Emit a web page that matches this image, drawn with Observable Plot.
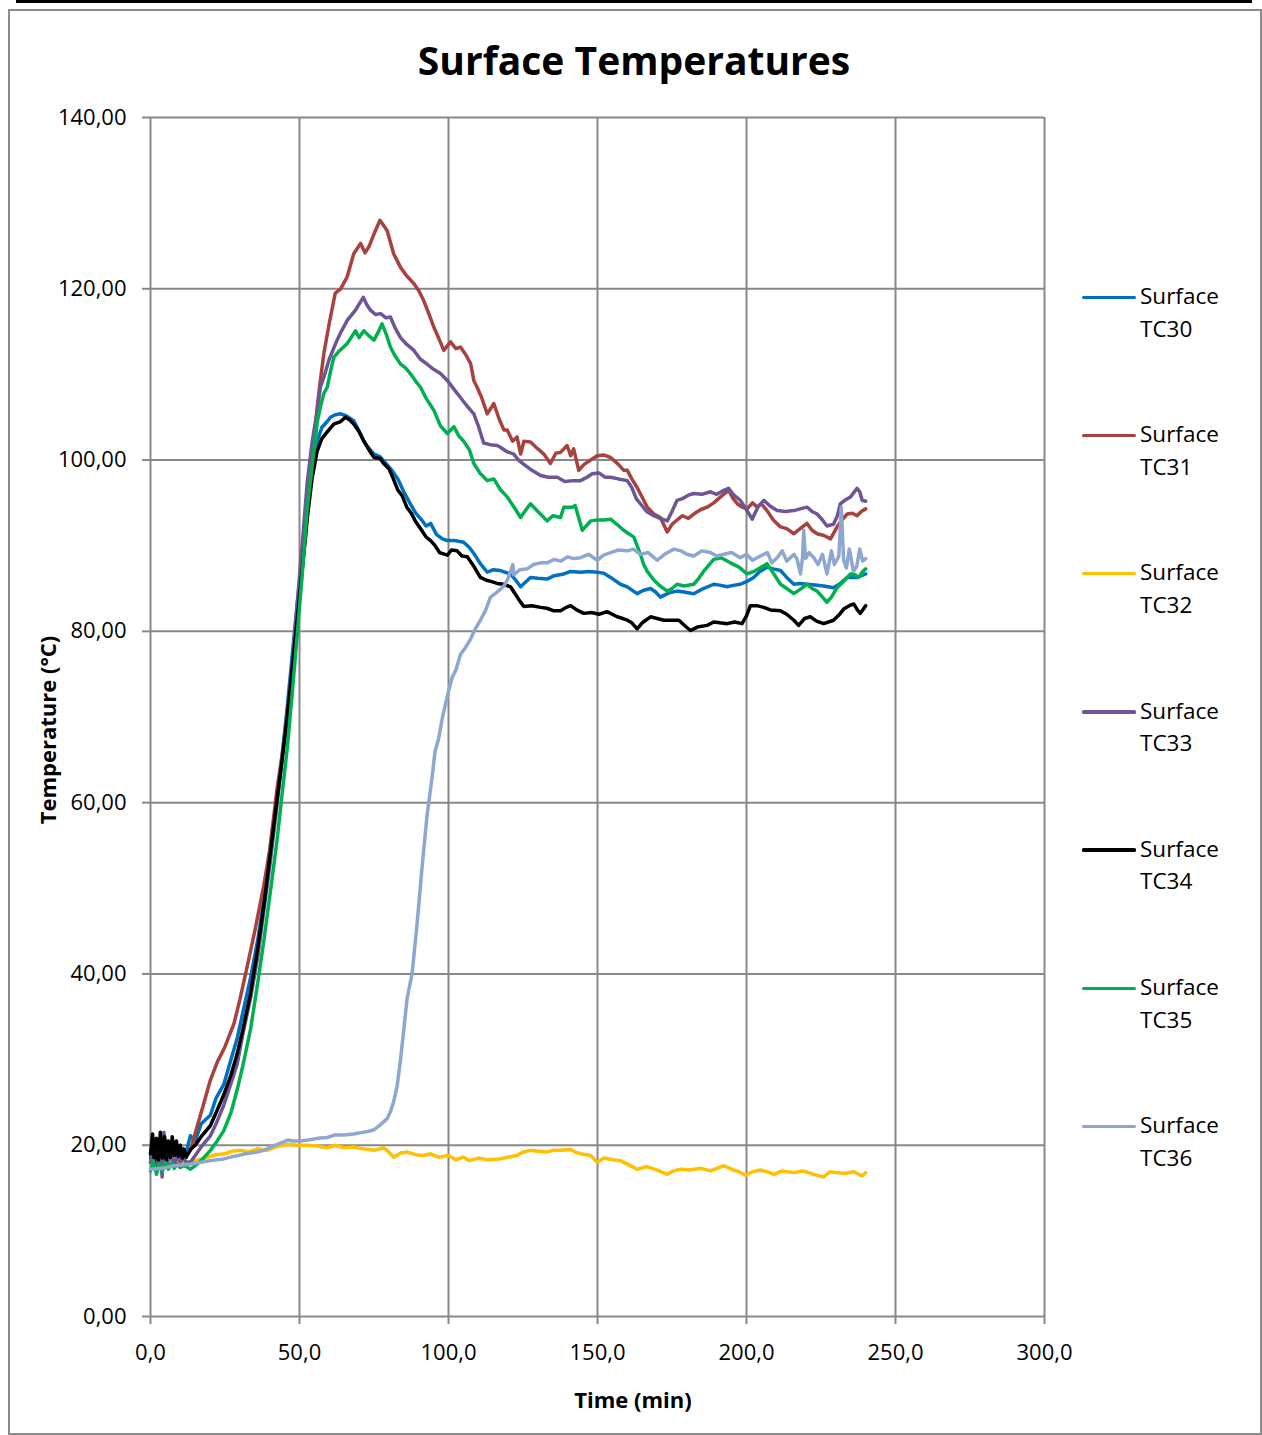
<!DOCTYPE html>
<html>
<head>
<meta charset="utf-8">
<script src="https://cdn.jsdelivr.net/npm/d3@7"></script>
<script src="https://cdn.jsdelivr.net/npm/@observablehq/plot@0.6"></script>
<style>
  html, body { margin: 0; padding: 0; background: #fff; }
  #wrap { position: relative; width: 1262px; height: 1435px; overflow: hidden; font-family: "Open Sans", sans-serif; color: #000; }
  #wrap svg { position: absolute; left: 0; top: 0; }
  .abs { position: absolute; white-space: nowrap; }
</style>
</head>
<body>
<div id="wrap"></div>
<script>
// ---------- data (time in min, temperature in °C) ----------
const seriesNames = ["Surface TC30", "Surface TC31", "Surface TC32", "Surface TC33", "Surface TC34", "Surface TC35", "Surface TC36"];
const seriesColors = ["#0070C0", "#A8423E", "#FFC000", "#6E5696", "#000000", "#00B050", "#8EA7D1"];
const xTicks = [0, 50, 100, 150, 200, 250, 300];
const yTicks = [0, 20, 40, 60, 80, 100, 120, 140];

const tc30 = [[0,18.5],[1,20.8],[2,18.2],[3,20.5],[4,19.0],[5,20.6],[6,18.6],[7,20.2],[8,18.8],[9,19.8],[10,18.4],[11,19.6],[12,19.2],[13.4,21.1],[15,20.5],[17,22.5],[20.1,23.5],[22,25.5],[24.6,27.1],[27,30.0],[29.1,32.5],[31,35.5],[33.6,39.6],[36,44],[38,48.6],[40,54],[42.5,60.5],[44,65],[45.9,71.2],[47.5,77],[49.2,83.1],[51,89],[52.6,94.4],[54.2,99],[55.9,102.2],[57.5,103.8],[59.3,104.5],[60.4,105],[62,105.3],[63.8,105.4],[65.5,105.2],[68.2,104.6],[70,103.4],[71.6,102.2],[73,101.5],[75,100.7],[77,100.4],[79,99.6],[81,98.8],[83,97.8],[85,96.3],[87,95.0],[89,93.8],[91,93.0],[92.5,92.3],[94,92.6],[96,91.3],[98,90.8],[99.6,90.6],[102,90.6],[105.1,90.4],[107,89.8],[108.5,89.1],[110.5,88],[113,86.9],[115,87.2],[117.4,87.1],[120.8,86.7],[122.5,86.0],[124.2,85.2],[127.5,86.3],[130,86.2],[133.1,86.1],[135.5,86.5],[138.7,86.7],[141,87.0],[144.3,86.9],[147,87.0],[149.9,86.9],[152,86.8],[154.4,86.3],[157.7,85.5],[160,85.2],[163.3,84.4],[165.5,84.8],[167.8,85.0],[169.5,84.6],[171.1,84.0],[174,84.5],[176.7,84.7],[179,84.6],[182.3,84.4],[185.5,85.0],[189,85.5],[191,85.4],[193.5,85.2],[196,85.4],[197.9,85.5],[200,85.8],[202.4,86.3],[204.5,87.0],[206.9,87.5],[209,87.3],[211.4,87.1],[213.5,86.3],[215.9,85.5],[218,85.6],[220.3,85.5],[223,85.4],[225.9,85.3],[229.2,85.1],[231.5,85.6],[233.8,86.3],[237.1,86.3],[240,86.7]];

const tc31 = [[0,18.0],[2,18.5],[4,17.8],[6,18.6],[8,18.2],[10,18.5],[12,18.8],[13.4,19.4],[15.5,22.0],[17.9,24.9],[20,27.5],[22.4,29.7],[25,31.5],[28,34.2],[30,37],[32.4,40.8],[35,45],[38,50.3],[40,54.5],[42.5,61.7],[45,67.5],[47,73.6],[48.5,79],[50.3,85.5],[52,91],[53.7,98.5],[54.8,101.5],[55.9,106],[57,109.3],[58.2,112.5],[60,116],[62,119.5],[63.8,120],[66,121.4],[68.2,124.1],[70.5,125.3],[72,124.2],[73.3,124.9],[75,126.4],[77,128],[79.4,126.8],[81.6,124.1],[83.9,122.5],[86,121.5],[88.4,120.6],[90,119.8],[91.7,118.6],[93.5,117],[95.1,115.5],[97,114],[98.4,112.8],[100.7,113.8],[102.5,113.0],[104,113.2],[105.8,112.3],[107.4,111.3],[108.5,109.3],[109.6,108.5],[111,107.4],[113,105.4],[115.2,106.6],[117,104.8],[118.6,103.5],[119.7,103.5],[121.5,102.2],[123,102.7],[124.2,100.7],[125.3,102.2],[127.5,102.1],[130,101.3],[132,100.7],[134.2,99.6],[136,100.8],[137.6,100.9],[139.8,101.7],[141,100.5],[142,101.3],[143.7,98.8],[145.5,99.5],[147.7,100.0],[149.9,100.5],[152,100.6],[154.4,100.3],[157,99.5],[158.8,98.8],[160,98.8],[161.5,97.8],[163.3,96.8],[165.5,95.3],[166.7,94.5],[168.9,93.7],[171.1,93.3],[173.4,91.6],[175,92.5],[176.7,93.0],[178.5,93.5],[180.5,93.2],[182.3,93.7],[184.5,94.2],[186.8,94.5],[189,95.0],[191.3,95.7],[194,96.5],[195.5,95.5],[196.9,94.9],[198.5,94.5],[200.2,94.3],[202,95.0],[203.6,94.5],[205,94.9],[206.9,94.1],[209,93.0],[211.4,92.2],[213.5,92.0],[215.9,91.4],[218,92.0],[220.3,92.6],[222,91.8],[223.7,91.4],[226,91.2],[228.2,90.8],[230.4,92.2],[232,93.0],[233.8,93.7],[235.5,93.8],[237.1,93.5],[238.5,94.0],[240,94.3]];

const tc32 = [[0,17.5],[3,17.6],[6,17.8],[9,17.9],[12,18.0],[15,18.2],[19,18.6],[22,18.9],[25,19.0],[27.5,19.3],[30.2,19.4],[33,19.2],[36,19.6],[39.1,19.4],[42,19.8],[45.9,20.1],[49,20.0],[52.6,20.0],[56,19.9],[59.3,19.7],[62,20.0],[65,19.7],[68.2,19.8],[71,19.6],[75,19.4],[78.3,19.7],[80,19.2],[81.6,18.6],[84,19.1],[86.1,19.2],[89,18.9],[91.7,18.8],[94,19.0],[96.7,18.6],[100,18.8],[102.5,18.3],[105,18.6],[107,18.2],[110,18.5],[113,18.3],[117,18.4],[120,18.6],[123,18.8],[125,19.2],[127.5,19.4],[130,19.3],[133,19.2],[135,19.4],[137.6,19.4],[141,19.5],[142.5,19.2],[144.3,19.0],[147.7,18.8],[149.9,18.0],[152.1,18.5],[155,18.3],[157.7,18.2],[160.5,17.7],[163.3,17.2],[166.5,17.5],[170,17.1],[173.4,16.6],[175.5,17.0],[177.9,17.2],[181,17.1],[184.6,17.3],[188,17.0],[190,17.3],[192.4,17.6],[195.7,17.1],[197.5,16.9],[199.7,16.5],[202,16.9],[204.7,17.1],[207,16.9],[209.2,16.6],[212,17.0],[215.9,16.8],[219,17.0],[222.6,16.6],[225.9,16.3],[228,16.9],[230.4,16.8],[233,16.7],[236,16.9],[238.8,16.4],[240,16.8]];

const tc33 = [[0,18.0],[1,19.2],[2,17.5],[3,20.6],[3.9,16.3],[4.5,21.5],[5.5,17.8],[7,19.0],[8,17.6],[9,18.8],[10,18.0],[11,18.5],[12,18.0],[13.4,18.0],[15,18.8],[17,19.8],[20.1,21.1],[22,22.5],[24.6,24.7],[27,27.2],[29.1,29.5],[31,33],[33.6,37.2],[36,42],[38,47.3],[40,52.5],[42.5,59.8],[44,64.5],[45.9,70],[47.5,76],[49.2,83.1],[51,90.5],[52.6,97.4],[54.2,102],[55.9,105.7],[57,108.5],[58.2,109.7],[60,111.8],[62.6,114],[64,115],[66,116.3],[68.8,117.5],[70,118.2],[71.4,119],[72.5,118.2],[73.8,117.5],[75.5,117.0],[77.2,117.1],[79,116.6],[80.5,116.7],[82,115.5],[83.9,114.3],[86,113.5],[88.4,112.8],[90.5,111.8],[92.8,111.2],[95,110.6],[97.3,110.1],[99.6,109.3],[102,108.2],[104,107.3],[106,106.4],[108.5,105.4],[110,104],[111.8,102],[114,101.8],[116.3,101.7],[117.4,101.5],[119.5,101.0],[121.9,100.7],[123.5,100.0],[125.3,99.5],[128,98.8],[130.9,98.2],[133.5,98.0],[136.5,98.0],[139,97.5],[142,97.6],[144.3,97.6],[146.5,98.0],[148.2,98.4],[150.5,98.5],[152.5,98.0],[154.4,98.0],[157,97.8],[160,97.6],[161.5,96.8],[163,95.5],[164.4,94.9],[166.5,94.0],[168.9,93.5],[171,93.2],[173.4,92.9],[175,94.0],[176.7,95.3],[178.5,95.5],[180.5,95.9],[182.3,96.1],[185,96.0],[187.9,96.3],[190,96.0],[192,96.4],[194,96.7],[195.5,96.0],[197.9,95.3],[200,94.2],[201.9,93.1],[203.8,94.5],[205.8,95.3],[208,94.6],[210.3,94.1],[213,94.0],[215.9,94.1],[218,94.3],[220.3,94.5],[222,94.0],[223.7,93.7],[225.5,93.0],[227,92.3],[229.2,92.5],[230.5,93.5],[231.5,94.9],[233,95.3],[234.9,95.7],[236,96.2],[237.1,96.7],[238,96.3],[238.8,95.3],[240,95.2]];

const tc34 = [[0,19.0],[0.7,21.3],[1.3,18.0],[2,20.8],[2.7,18.3],[3.3,21.5],[4,18.5],[4.7,21.0],[5.3,18.2],[6,20.5],[6.7,18.6],[7.3,21.0],[8,18.8],[8.7,20.5],[9.3,18.7],[10,20.0],[10.7,18.5],[11.3,19.5],[12,18.6],[13.4,19.5],[15,20.0],[17,21.0],[20.1,22.3],[22,23.8],[24.6,25.9],[27,28.2],[29.1,30.7],[31,33.5],[33.6,37.8],[36,43],[38,47.9],[40,53.5],[42.5,60.5],[44,64.5],[45.9,70],[47.5,75.5],[49.2,81.3],[51,87.5],[52.6,93.2],[54.2,97.8],[55.9,101],[57.5,102.5],[59.3,103.3],[61.5,104.2],[63.8,104.5],[65.4,105],[66.8,104.7],[68.2,104.2],[70,103.3],[71.6,102.2],[73.3,101.2],[75,100.3],[77,100.2],[78.5,99.5],[80,99.0],[81.5,97.8],[83,96.5],[84.5,95.8],[86,94.5],[87.5,93.8],[89,92.8],[91,91.8],[92.5,91.0],[94,90.6],[95.5,90.0],[97,89.2],[99.6,88.9],[101,89.5],[102.9,89.4],[104.5,88.8],[106.3,88.7],[108.5,87.6],[110.7,86.3],[112.5,86.0],[114.5,85.8],[116.3,85.6],[118.5,85.5],[120.8,85.2],[122.5,84.3],[124,83.5],[125.3,82.9],[128,83.0],[130.9,82.8],[133,82.7],[135.4,82.4],[137.6,82.4],[139.5,82.8],[141,83.0],[143,82.5],[145.4,82.1],[148,82.2],[150.5,82.0],[153.2,82.3],[156.6,81.7],[158.5,81.5],[160,81.3],[161.5,81.0],[163.3,80.3],[165,81.0],[167.8,81.7],[170,81.5],[172.3,81.3],[175.6,81.3],[177.3,81.3],[179.5,80.6],[181.2,80.1],[183.5,80.5],[186.8,80.7],[189,81.1],[191,81.0],[193.5,80.9],[196,81.1],[198.5,80.9],[200,81.8],[201.3,83.0],[203.5,83.0],[205.8,82.8],[208,82.5],[211.4,82.4],[213.5,82.0],[215.9,81.3],[217.5,80.7],[219.5,81.5],[221.4,81.7],[223.5,81.2],[225.9,80.9],[229.2,81.3],[231,81.9],[232.6,82.6],[234.5,83.0],[236,83.2],[237.2,82.5],[238.2,82.1],[240,83.0]];

const tc35 = [[0,17.0],[1,18.2],[2,16.6],[3,17.8],[4,17.0],[5,18.0],[6,17.2],[7,17.9],[8,17.3],[9,17.8],[10,17.4],[11,17.6],[12,17.5],[13.4,17.2],[15,17.6],[17,18.2],[20.1,19.4],[22,20.3],[24.6,21.7],[27,23.8],[29.1,26.5],[31,29.3],[33.6,33.6],[36,39],[38,43.8],[40,49],[42.5,55.7],[44,60.5],[45.9,66.4],[47.5,72.5],[49.2,79.5],[51,87],[52.6,94.4],[53.8,98],[54.8,101],[56,104.5],[57,106.2],[58.2,107.8],[59.3,108.5],[60.5,110.5],[61.5,112],[63.5,112.8],[66,113.6],[68.8,115.1],[70,114.3],[71.6,115.1],[73.3,114.5],[75,114.0],[76.5,115.0],[77.7,115.9],[79,114.8],[80.5,113.2],[82,112.2],[83.9,111.2],[85.5,110.8],[87.2,110.1],[89,109.2],[90.6,108.5],[92.5,107.2],[94,106.4],[95.1,105.8],[97.3,104.0],[99.6,103.1],[101.8,103.9],[103.5,102.8],[105.1,102.2],[107,101.2],[108.5,99.6],[110.5,98.5],[113,97.6],[115.2,97.8],[117.5,96.5],[119.7,95.7],[122,94.5],[124.2,93.3],[126,94.2],[127.5,94.9],[130,94.0],[133.1,92.9],[135,93.5],[137.6,93.3],[138.7,94.5],[141.5,94.5],[142.5,94.7],[144.9,91.8],[147.7,92.9],[150,93.0],[152,93.0],[154.4,93.1],[156.5,92.5],[158.8,91.8],[160.5,91.4],[162.2,91.0],[163.3,90.0],[164.4,89.0],[165.5,87.8],[166.7,87.0],[168.9,86.0],[171,85.3],[173.4,84.7],[175,85.0],[176.7,85.5],[179,85.3],[182.3,85.5],[184,86.2],[185.6,87.0],[187.5,87.8],[189,88.4],[191.5,88.6],[194.6,88.0],[197.5,87.5],[200.2,86.7],[202.5,87.0],[204.5,87.4],[206.9,87.9],[209,86.8],[211.4,85.5],[213.5,85.0],[215.9,84.4],[218,84.9],[220.3,85.5],[222,85.0],[223.7,84.7],[225.5,84.0],[227,83.4],[228.5,84.0],[230.4,85.1],[232.5,85.8],[234.9,86.7],[236.5,86.6],[237.6,86.3],[239,87.0],[240,87.3]];

const tc36 = [[0,17.2],[4,17.3],[8,17.6],[13.4,17.8],[17,18.0],[20,18.2],[24.6,18.4],[28,18.7],[32,19.0],[35.8,19.2],[38,19.4],[41,19.9],[44.7,20.4],[46,20.6],[48,20.5],[50.3,20.5],[53,20.6],[56,20.8],[59.3,20.9],[62,21.2],[65,21.2],[68.2,21.3],[71,21.5],[73,21.6],[75,21.8],[77.2,22.4],[79.4,23.1],[80.6,24.0],[81.6,25.1],[82.8,27.0],[83.9,30.0],[85,33.5],[86.1,37.1],[87.8,40.1],[89.5,46],[91.2,52.7],[92.8,58.5],[94.5,63],[95.5,66],[96.7,67.5],[98,70],[99,71.5],[100,73],[101.2,74.6],[102.5,75.5],[104,77.3],[105.5,78],[107.4,79.1],[109,80.3],[110.7,81.3],[112.5,82.5],[114.1,84],[116,84.5],[118.6,85.3],[120,86.2],[121.6,87.8],[121.9,86.6],[124,87.2],[126.4,87.3],[128.5,87.8],[131,88.0],[133.1,88.0],[135.5,88.4],[137.6,88.2],[140,88.7],[142,88.5],[144.3,88.6],[147,89.0],[149.9,88.3],[152,88.9],[154.4,89.2],[157,89.5],[160,89.4],[162,89.6],[164.4,89.0],[167,89.2],[170,88.3],[172.5,89.0],[175.6,89.6],[178,89.4],[180,89.0],[182.3,88.8],[185,89.4],[187.9,89.2],[190,88.8],[192.4,89.0],[195,89.2],[197.9,88.6],[200,89.0],[202,88.3],[204.7,88.8],[207,89.2],[208.5,88.0],[210.3,88.6],[212,89.4],[213.5,88.2],[215.9,89.0],[217,88.4],[218.1,86.7],[218.8,88.6],[219.2,91.8],[219.8,88.5],[221,89.2],[222.6,88.6],[224,87.8],[225.5,89.0],[227,86.7],[228.5,89.4],[229.5,87.8],[231,88.8],[231.8,94.5],[232.6,88.3],[233.5,87.4],[234.5,89.6],[235.9,87.0],[237,87.6],[238,89.6],[239,88.2],[240,88.5]];

const seriesData = [tc30, tc31, tc32, tc33, tc34, tc35, tc36];

// ---------- chart ----------
const fmtY = d => d.toFixed(2).replace(".", ",");
const fmtX = d => d.toFixed(1).replace(".", ",");
const gridColor = "#888888";

const lineMarks = seriesData.map((s, i) =>
  Plot.line(s, {x: d => d[0], y: d => d[1], stroke: seriesColors[i], strokeWidth: 3.5, strokeLinejoin: "round"})
);

const chart = Plot.plot({
  width: 1262,
  height: 1435,
  marginLeft: 150,
  marginRight: 218,
  marginTop: 117,
  marginBottom: 119,
  style: {fontFamily: "'Open Sans', sans-serif", fontSize: "22px", color: "#000", background: "transparent"},
  x: {domain: [0, 300]},
  y: {domain: [0, 140]},
  marks: [
    Plot.gridX(xTicks, {stroke: gridColor, strokeOpacity: 1, strokeWidth: 2}),
    Plot.gridY(yTicks, {stroke: gridColor, strokeOpacity: 1, strokeWidth: 2}),
    Plot.axisY(yTicks, {tickSize: 8, tickPadding: 16, tickFormat: fmtY, stroke: gridColor, strokeWidth: 2, fill: "#000", fontSize: 22, label: null}),
    Plot.axisX(xTicks, {tickSize: 8, tickPadding: 20, tickFormat: fmtX, stroke: gridColor, strokeWidth: 2, fill: "#000", fontSize: 22, label: null}),
    ...lineMarks
  ]
});

const wrap = document.getElementById("wrap");
wrap.appendChild(chart);

function addDiv(html, css) {
  const d = document.createElement("div");
  d.className = "abs";
  d.innerHTML = html;
  Object.assign(d.style, css);
  wrap.appendChild(d);
  return d;
}

// frame decorations
addDiv("", {left: "16px", top: "0px", width: "1236px", height: "3px", background: "#000"});
addDiv("", {left: "8px", top: "9px", width: "1250px", height: "1422px", border: "2px solid #8c8c8c"});

// title and axis labels
addDiv("Surface Temperatures", {left: "634px", top: "59px", transform: "translate(-50%,-50%)", fontSize: "39px", fontWeight: "700"});
addDiv("Temperature (°C)", {left: "47px", top: "730px", transform: "translate(-50%,-50%) rotate(-90deg)", fontSize: "22px", fontWeight: "700"});
addDiv("Time (min)", {left: "633px", top: "1399px", transform: "translate(-50%,-50%)", fontSize: "22px", fontWeight: "700"});

// legend
seriesNames.forEach((name, i) => {
  const cy = 297 + i * 138.2;
  addDiv("", {left: "1082px", top: (cy - 1.5) + "px", width: "54px", height: "3.5px", background: seriesColors[i], borderRadius: "1.5px"});
  const parts = name.split(" ");
  addDiv(parts[0] + "<br>" + parts[1], {left: "1140px", top: (cy - 17) + "px", fontSize: "22.5px", lineHeight: "32.5px"});
});
</script>
</body>
</html>
